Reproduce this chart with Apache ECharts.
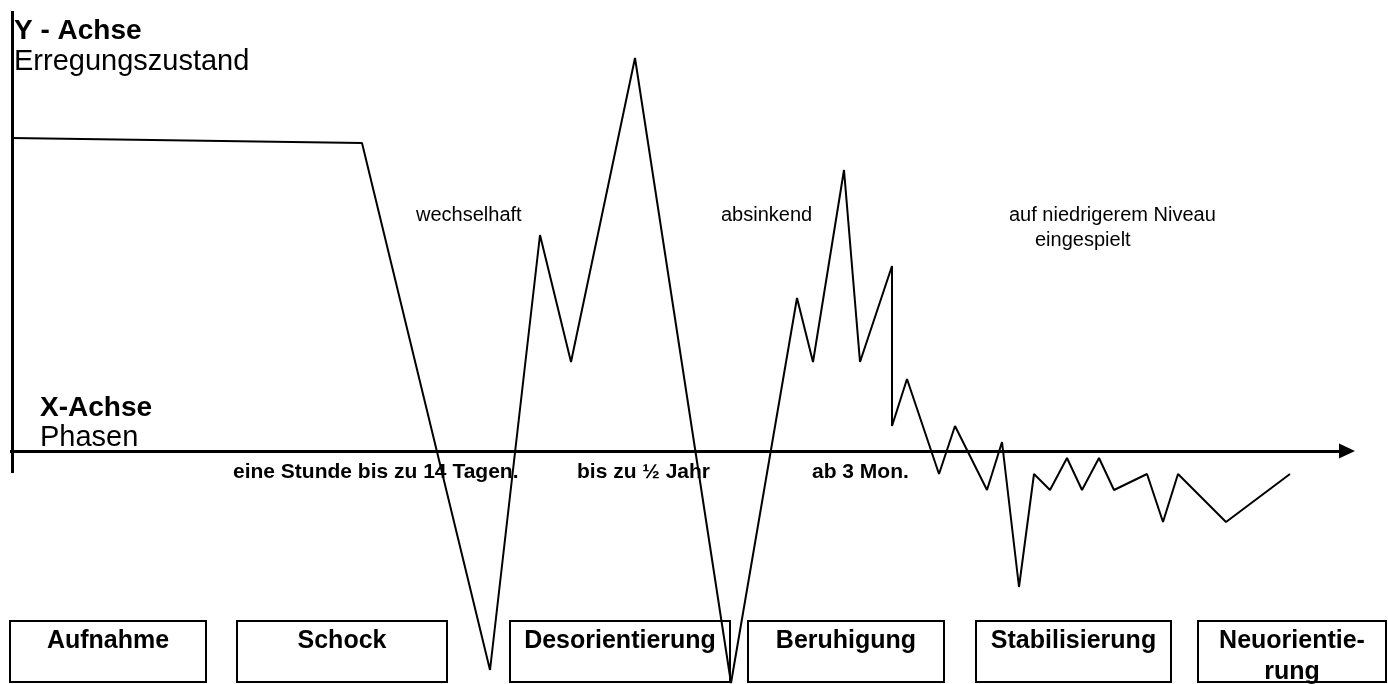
<!DOCTYPE html>
<html>
<head>
<meta charset="utf-8">
<title>Phasen</title>
<script src="https://cdn.jsdelivr.net/npm/echarts@6/dist/echarts.min.js"></script>
<style>
  html, body { margin: 0; padding: 0; background: #fff; }
  #chart { width: 1388px; height: 684px; }
</style>
</head>
<body>
<div id="chart"></div>
<script>
// Verlauf des Erregungszustands (x = Zeit, y = Erregung, 0 liegt auf der X-Achse)
const curveX = [0, 35, 47.8, 52.8, 55.9, 62.3, 71.9, 78.5, 80.1, 83.2, 84.8, 88, 88, 89.5, 92.7, 94.3, 97.5, 99, 100.7, 102.2, 103.8, 105.5, 107, 108.7, 110.2, 113.5, 115.1, 116.6, 121.4, 127.8]
const curveY = [31.3, 30.8, -21.9, 21.6, 8.9, 39.3, -23.2, 15.3, 8.9, 28.1, 8.9, 18.5, 2.5, 7.2, -2.3, 2.5, -3.9, 0.9, -13.6, -2.3, -3.9, -0.7, -3.9, -0.7, -3.9, -2.3, -7.1, -2.3, -7.1, -2.3]

// Phasen (Kästen unten)
const phaseNames = ['Aufnahme', 'Schock', 'Desorientierung', 'Beruhigung', 'Stabilisierung', 'Neuorientie-\nrung']
const phaseStart = [-0.2, 22.5, 49.8, 73.6, 96.4, 118.6]
const phaseEnd = [19.4, 43.5, 71.8, 93.2, 115.9, 137.4]

// Beschriftungen
const axisTitles = ['Y - Achse', 'Erregungszustand', 'X-Achse', 'Phasen']
const durationTexts = ['eine Stunde bis zu 14 Tagen.', 'bis zu ½ Jahr', 'ab 3 Mon.']
const noteTexts = ['wechselhaft', 'absinkend', 'auf niedrigerem Niveau', 'eingespielt']

// Lage der Beschriftungen (linker Rand, Mitte) in Achsen-Einheiten
const axisTitlePos = [[0.2, 42.0], [0.2, 38.9], [2.8, 4.3], [2.8, 1.3]]
const durationPos = [[22.1, -2.1], [56.5, -2.1], [80, -2.1]]
const notePos = [[40.4, 23.6], [70.9, 23.6], [99.7, 23.6], [102.3, 21.1]]

const font = 'Liberation Sans, Arial, sans-serif'

function textItems (texts, pos, style) {
  return texts.map((t, i) => {
    return {
      value: pos[i],
      label: Object.assign({ formatter: t, color: '#000' }, Array.isArray(style) ? style[i] : style)
    }
  })
}

const bold = { fontWeight: 'bold', fontSize: 28 }
const plain = { fontWeight: 'normal', fontSize: 29 }

let chart = echarts.init(document.getElementById('chart'))
let option = {
  animation: false,
  grid: { left: 0, right: 0, top: 0, bottom: 0 },
  xAxis: { type: 'value', min: -1.2, max: 137.6, show: false },
  yAxis: { type: 'value', min: -23.3, max: 45.1, show: false },
  series: [
    {
      name: 'Erregung',
      type: 'line',
      data: curveX.map((x, i) => [x, curveY[i]]),
      symbol: 'none',
      clip: false,
      silent: true,
      lineStyle: { color: '#000', width: 2 },
      markLine: {
        silent: true,
        symbol: 'none',
        label: { show: false },
        data: [
          [
            { coord: [-0.2, 0], symbol: 'none', lineStyle: { color: '#000', width: 3, type: 'solid' } },
            { coord: [133.5, 0], symbol: 'triangle', symbolSize: [15, 16] }
          ],
          [
            { coord: [0, 44.0], symbol: 'none', lineStyle: { color: '#000', width: 3, type: 'solid' } },
            { coord: [0, -2.2], symbol: 'none' }
          ]
        ]
      },
      markArea: {
        silent: true,
        itemStyle: { color: 'transparent', borderColor: '#000', borderWidth: 2 },
        label: {
          position: 'insideTop',
          distance: 6,
          color: '#000',
          fontFamily: font,
          fontWeight: 'bold',
          fontSize: 25,
          lineHeight: 31
        },
        data: phaseNames.map((n, i) => {
          return [{ name: n, coord: [phaseStart[i], -17] }, { coord: [phaseEnd[i], -23.1] }]
        })
      }
    },
    {
      name: 'Texte',
      type: 'scatter',
      symbolSize: 0,
      silent: true,
      clip: false,
      itemStyle: { opacity: 1 },
      label: {
        show: true,
        position: 'right',
        distance: 0,
        align: 'left',
        verticalAlign: 'middle',
        color: '#000',
        opacity: 1,
        fontFamily: font
      },
      data: [].concat(
        textItems(axisTitles, axisTitlePos, [bold, plain, bold, plain]),
        textItems(durationTexts, durationPos, { fontWeight: 'bold', fontSize: 21 }),
        textItems(noteTexts, notePos, { fontWeight: 'normal', fontSize: 20 })
      )
    }
  ]
}
chart.setOption(option)
</script>
</body>
</html>
